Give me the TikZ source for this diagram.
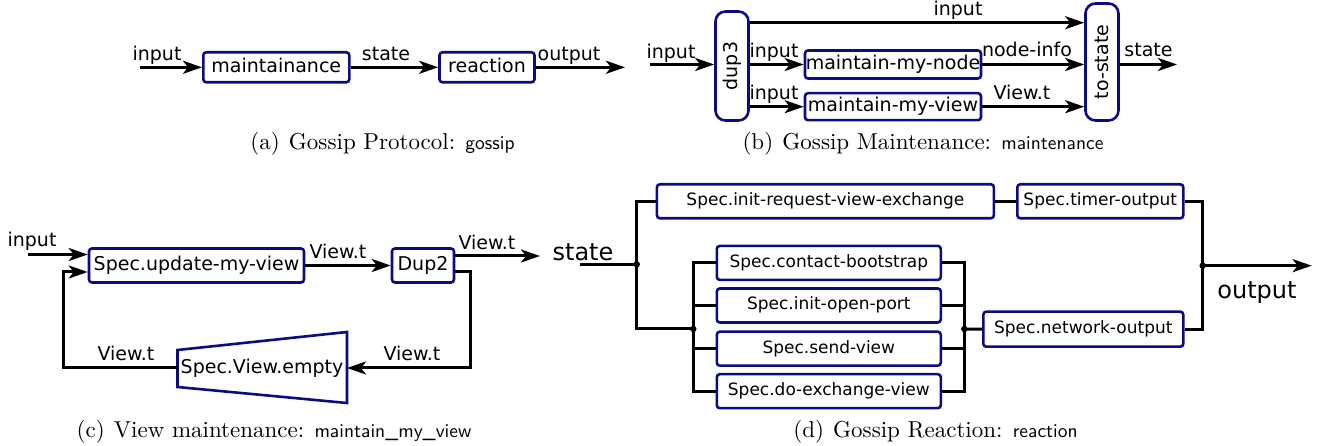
\documentclass[tikz,border=0pt]{standalone}
\usepackage{fontspec}
\newfontfamily\dv{DejaVu Sans}
\newfontfamily\capr{lmroman10-regular}[Extension=.otf]
\newfontfamily\caps{lmsans10-regular}[Extension=.otf]
\usetikzlibrary{arrows.meta,calc}
\definecolor{boxblue}{RGB}{12,12,130}
\newcommand{\capline}[3]{{\capr\fontsize{23}{27}\selectfont #1\hspace{0.4em}#2 }{\caps\fontsize{19.5}{24}\selectfont #3}}
\begin{document}
\begin{tikzpicture}[x=1pt,y=-1pt,
  bx/.style={draw=boxblue, line width=2.6pt, rounded corners=3pt, fill=white, inner sep=0pt},
  box/.style={bx, font=\dv\fontsize{19}{22}\selectfont, text height=14pt, text depth=4pt},
  sbox/.style={bx, font=\dv\fontsize{17}{20}\selectfont, text height=12.5pt, text depth=3.5pt},
  rbox/.style={bx, rounded corners=10pt, font=\dv\fontsize{19}{22}\selectfont},
  conn/.style={line width=3pt, -{Stealth[length=19pt,width=13pt,inset=5pt]}},
  wire/.style={line width=3pt},
  lbl/.style={anchor=base, inner sep=0pt, font=\dv\fontsize{19}{22}\selectfont},
  big/.style={anchor=base, inner sep=0pt, font=\dv\fontsize{24}{28}\selectfont},
  captxt/.style={inner sep=0pt},
  dot/.style={circle, fill=black, inner sep=0pt, minimum size=6.5pt}
]
\useasboundingbox (0,0) rectangle (1318,446);

% ---------- (a)
\coordinate (inA) at (140,67.3);
\node[box, minimum width=146pt, minimum height=30pt] (mA) at (276.3,67.3) {maintainance};
\node[box, minimum width=95pt, minimum height=30pt] (rA) at (487,67.3) {reaction};
\coordinate (outA) at (625,67.3);
\draw[conn] (inA) -- (mA.west);
\draw[conn] (mA.east) -- (rA.west);
\draw[conn] (rA.east) -- (outA);
\node[lbl] (lA1) at (157,61) {input};
\node[lbl] (lA2) at (386,61) {state};
\node[lbl] (lA3) at (569,61) {output};
\node[captxt] (capA) at (382.5,144) {\capline{(a)}{Gossip Protocol:}{gossip}};

% ---------- (b)
\node[rbox, minimum width=33pt, minimum height=109pt] (dup) at (732,66) {\rotatebox{90}{dup3}};
\node[rbox, minimum width=33pt, minimum height=117pt] (ts) at (1102,62) {\rotatebox{90}{to-state}};
\node[box, minimum width=176pt, minimum height=28pt] (mn) at (893,64.5) {maintain-my-node};
\node[box, minimum width=176pt, minimum height=27pt] (mv) at (893,106.7) {maintain-my-view};
\coordinate (inB) at (650,64.5);
\coordinate (topB) at (0,22.7);
\coordinate (outB) at (1177,64.5);
\draw[conn] (inB) -- (inB -| dup.west);
\draw[conn] (dup.east |- topB) -- (ts.west |- topB);
\draw[conn] (dup.east |- mn) -- (mn.west);
\draw[conn] (dup.east |- mv) -- (mv.west);
\draw[conn] (mn.east) -- (ts.west |- mn);
\draw[conn] (mv.east) -- (ts.west |- mv);
\draw[conn] (ts.east |- outB) -- (outB);
\node[lbl] (lB1) at (671,58.5) {input};
\node[lbl] (lB2) at (958,15.5) {input};
\node[lbl] (lB3) at (774,58) {input};
\node[lbl] (lB4) at (774,100) {input};
\node[lbl] (lB5) at (1027,57) {node-info};
\node[lbl] (lB6) at (1022,100) {View.t};
\node[lbl] (lB7) at (1148.5,57) {state};
\node[captxt] (capB) at (923,144) {\capline{(b)}{Gossip Maintenance:}{maintenance}};

% ---------- (c)
\node[box, minimum width=215pt, minimum height=34pt] (upd) at (196.5,265.5) {Spec.update-my-view};
\node[box, minimum width=62pt, minimum height=34pt] (dup2) at (423,265.5) {Dup2};
\node[inner sep=0pt, font=\dv\fontsize{19}{22}\selectfont] (emp) at (262,368) {Spec.View.empty};
\draw[draw=boxblue, line width=2.6pt] ($(emp)+(-84.5,-18)$) -- ($(emp)+(85,-36)$) -- ($(emp)+(85,35)$) -- ($(emp)+(-84.5,19)$) -- cycle;
\coordinate (empR) at ($(emp)+(85,0)$);
\coordinate (empL) at ($(emp)+(-84.5,0)$);
\coordinate (inC) at (27.6,254.5);
\coordinate (outC) at (540,256);
\coordinate (fbY) at (0,272);
\coordinate (cR) at (470,0);
\coordinate (cL) at (63,0);
\draw[conn] (inC) -- (inC -| upd.west);
\draw[conn] (upd.east) -- (dup2.west);
\draw[conn] (dup2.east |- outC) -- (outC);
\draw[conn] (dup2.east |- fbY) -| (cR |- empR) -- (empR);
\draw[conn] (empL) -| (cL |- fbY) -- (fbY -| upd.west);
\node[lbl] (lC1) at (32,247) {input};
\node[lbl] (lC2) at (338,259) {View.t};
\node[lbl] (lC3) at (487,250) {View.t};
\node[lbl] (lC4) at (126,361) {View.t};
\node[lbl] (lC5) at (412,361) {View.t};
\node[captxt] (capC) at (274,432) {\capline{(c)}{View maintenance:}{maintain\_my\_view}};

% ---------- (d)
\node[big] (lD1) at (583,261) {state};
\node[big] (lD2) at (1257,299) {output};
\coordinate (stS) at (580,264.3);
\node[dot] (d1) at (636.7,264.3) {};
\node[dot] (d2) at (693.3,329) {};
\node[dot] (d3) at (964.3,329) {};
\node[dot] (d4) at (1202.7,265.7) {};
\coordinate (outD) at (1311.7,265.7);
\node[sbox, minimum width=337pt, minimum height=34pt] (irv) at (825.4,201.3) {Spec.init-request-view-exchange};
\node[sbox, minimum width=166pt, minimum height=34pt] (tmr) at (1100.3,201.3) {Spec.timer-output};
\node[sbox, minimum width=200pt, minimum height=35pt] (net) at (1083.3,329.2) {Spec.network-output};
\node[sbox, minimum width=224pt, minimum height=34pt] (cb) at (828.8,262.9) {Spec.contact-bootstrap};
\node[sbox, minimum width=224pt, minimum height=34pt] (iop) at (828.8,305.5) {Spec.init-open-port};
\node[sbox, minimum width=224pt, minimum height=34pt] (sv) at (828.8,348.7) {Spec.send-view};
\node[sbox, minimum width=224pt, minimum height=34pt] (dev) at (828.8,391.2) {Spec.do-exchange-view};
\draw[wire] (stS) -- (d1.center);
\draw[wire] (irv.west) -| (d1.center |- d2) -- (d2.center);
\draw[wire] (cb.west) -| (d2.center |- dev) -- (dev.west);
\draw[wire] (iop.west) -- (d2.center |- iop);
\draw[wire] (sv.west) -- (d2.center |- sv);
\draw[wire] (cb.east) -| (d3.center |- dev) -- (dev.east);
\draw[wire] (iop.east) -- (d3.center |- iop);
\draw[wire] (sv.east) -- (d3.center |- sv);
\draw[wire] (d3.center) -- (net.west);
\draw[wire] (irv.east) -- (tmr.west);
\draw[wire] (tmr.east) -| (d4.center |- net) -- (net.east);
\draw[conn] (d4.center) -- (outD);
\node[captxt] (capD) at (935.5,432) {\capline{(d)}{Gossip Reaction:}{reaction}};
\end{tikzpicture}
\end{document}
